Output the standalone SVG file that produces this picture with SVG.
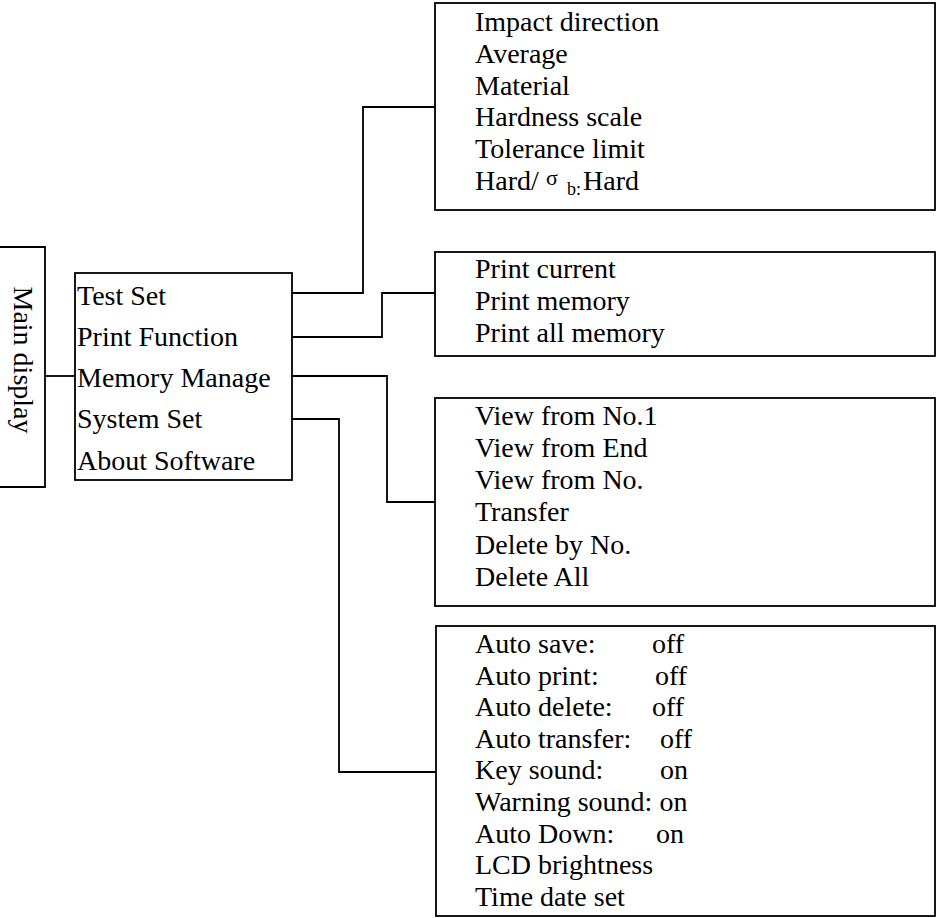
<svg xmlns="http://www.w3.org/2000/svg" width="943" height="918" viewBox="0 0 943 918">
<rect width="943" height="918" fill="#fff"/>
<g id="connectors" fill="none" stroke="#000" stroke-width="1.8">
  <path d="M0,247 H45 V487 H0"/>
  <path d="M45,376 H75"/>
  <path d="M292,293 H363 V107 H435"/>
  <path d="M292,337 H382 V293 H435"/>
  <path d="M292,376 H387 V502 H435"/>
  <path d="M292,419 H339 V772 H436"/>
</g>
<g id="main-display">
  <text font-family="Liberation Serif" font-size="28" transform="translate(14,360) rotate(90)" text-anchor="middle">Main display</text>
</g>
<g id="menu">
  <rect x="75" y="273" width="217" height="207" fill="#fff" stroke="#000" stroke-width="1.8"/>
  <text font-family="Liberation Serif" font-size="28" x="77" y="305">Test Set</text>
  <text font-family="Liberation Serif" font-size="28" x="77" y="346">Print Function</text>
  <text font-family="Liberation Serif" font-size="28" x="77" y="387">Memory Manage</text>
  <text font-family="Liberation Serif" font-size="28" x="77" y="428">System Set</text>
  <text font-family="Liberation Serif" font-size="28" x="77" y="470">About Software</text>
</g>
<g id="test-set">
  <rect x="435" y="3" width="500" height="207" fill="#fff" stroke="#000" stroke-width="1.8"/>
  <text font-family="Liberation Serif" font-size="28" x="475" y="31">Impact direction</text>
  <text font-family="Liberation Serif" font-size="28" x="475" y="63">Average</text>
  <text font-family="Liberation Serif" font-size="28" x="475" y="95">Material</text>
  <text font-family="Liberation Serif" font-size="28" x="475" y="126">Hardness scale</text>
  <text font-family="Liberation Serif" font-size="28" x="475" y="158">Tolerance limit</text>
  <text font-family="Liberation Serif" font-size="28" x="475" y="190">Hard/</text>
  <text font-family="Liberation Serif" font-size="22" x="546" y="185">σ</text>
  <text font-family="Liberation Serif" font-size="18" x="567" y="195">b:</text>
  <text font-family="Liberation Serif" font-size="28" x="583" y="190">Hard</text>
</g>
<g id="print-function">
  <rect x="435" y="252" width="500" height="104" fill="#fff" stroke="#000" stroke-width="1.8"/>
  <text font-family="Liberation Serif" font-size="28" x="475" y="278">Print current</text>
  <text font-family="Liberation Serif" font-size="28" x="475" y="310">Print memory</text>
  <text font-family="Liberation Serif" font-size="28" x="475" y="342">Print all memory</text>
</g>
<g id="memory-manage">
  <rect x="435" y="398" width="500" height="208" fill="#fff" stroke="#000" stroke-width="1.8"/>
  <text font-family="Liberation Serif" font-size="28" x="475" y="425">View from No.1</text>
  <text font-family="Liberation Serif" font-size="28" x="475" y="457">View from End</text>
  <text font-family="Liberation Serif" font-size="28" x="475" y="489">View from No.</text>
  <text font-family="Liberation Serif" font-size="28" x="475" y="521">Transfer</text>
  <text font-family="Liberation Serif" font-size="28" x="475" y="554">Delete by No.</text>
  <text font-family="Liberation Serif" font-size="28" x="475" y="586">Delete All</text>
</g>
<g id="system-set">
  <rect x="436" y="626" width="499" height="290" fill="#fff" stroke="#000" stroke-width="1.8"/>
  <text font-family="Liberation Serif" font-size="28" x="475" y="653">Auto save:</text>
  <text font-family="Liberation Serif" font-size="28" x="652" y="653">off</text>
  <text font-family="Liberation Serif" font-size="28" x="475" y="685">Auto print:</text>
  <text font-family="Liberation Serif" font-size="28" x="655" y="685">off</text>
  <text font-family="Liberation Serif" font-size="28" x="475" y="716">Auto delete:</text>
  <text font-family="Liberation Serif" font-size="28" x="652" y="716">off</text>
  <text font-family="Liberation Serif" font-size="28" x="475" y="748">Auto transfer:</text>
  <text font-family="Liberation Serif" font-size="28" x="660" y="748">off</text>
  <text font-family="Liberation Serif" font-size="28" x="475" y="779">Key sound:</text>
  <text font-family="Liberation Serif" font-size="28" x="660" y="779">on</text>
  <text font-family="Liberation Serif" font-size="28" x="475" y="811">Warning sound: on</text>
  <text font-family="Liberation Serif" font-size="28" x="475" y="843">Auto Down:</text>
  <text font-family="Liberation Serif" font-size="28" x="656" y="843">on</text>
  <text font-family="Liberation Serif" font-size="28" x="475" y="874">LCD brightness</text>
  <text font-family="Liberation Serif" font-size="28" x="475" y="906">Time date set</text>
</g>
</svg>
